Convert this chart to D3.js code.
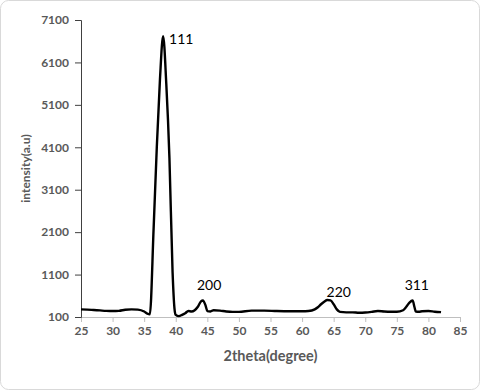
<!DOCTYPE html>
<html>
<head>
<meta charset="utf-8">
<script src="https://cdn.jsdelivr.net/npm/d3@7"></script>
<style>
  body { margin: 0; background: #fff; }
  text { font-family: Lato, "Open Sans", sans-serif; }
</style>
</head>
<body>
<div id="chart"></div>
<script>
// XRD pattern
var twoTheta = [25, 26, 27, 28, 29, 30, 31, 32, 33, 34, 35, 35.5, 35.9, 36.5, 37, 37.5, 38, 38.5, 39, 39.5, 39.8, 40, 40.5, 41, 41.5, 42, 42.5, 43, 43.5, 44, 44.3, 44.7, 45, 45.5, 46, 47, 48, 49, 50, 52, 54, 56, 58, 60, 61, 62, 62.5, 63, 63.5, 64, 64.5, 65, 65.5, 66, 67, 68, 69, 70, 71, 72, 73, 74, 75, 76, 76.5, 77, 77.5, 77.8, 78, 78.5, 79, 80, 81, 82];
var intensity = [280, 275, 265, 255, 245, 240, 245, 270, 280, 275, 230, 180, 165, 2200, 4100, 5700, 6720, 5600, 3850, 1150, 300, 150, 120, 150, 190, 240, 230, 260, 340, 470, 490, 380, 240, 230, 260, 250, 230, 220, 220, 250, 250, 240, 235, 235, 240, 280, 330, 400, 460, 500, 490, 400, 280, 220, 210, 210, 200, 205, 220, 240, 230, 225, 225, 260, 340, 440, 490, 330, 230, 225, 235, 240, 225, 215];

var peakLabels = ["111", "200", "220", "311"];
var peakTheta = [38, 44.3, 64.2, 77.5];
var peakValue = [6720, 490, 500, 490];

var xTicks = [25, 30, 35, 40, 45, 50, 55, 60, 65, 70, 75, 80, 85];
var yTicks = [100, 1100, 2100, 3100, 4100, 5100, 6100, 7100];

var width = 480, height = 390;
var margin = {left: 81, right: 20, top: 20, bottom: 73};

var svg = d3.select("#chart").append("svg")
  .attr("width", width)
  .attr("height", height);

// chart border
svg.append("rect")
  .attr("x", 0.5).attr("y", 0.5)
  .attr("width", width - 1).attr("height", height - 1)
  .attr("rx", 8)
  .attr("fill", "#fff")
  .attr("stroke", "#d9d9d9");

var x = d3.scaleLinear().domain([25, 85]).range([margin.left, width - margin.right]);
var y = d3.scaleLinear().domain([100, 7100]).range([height - margin.bottom, margin.top]);

var xAxis = svg.append("g")
  .attr("transform", "translate(0," + y(100) + ")")
  .call(d3.axisBottom(x).tickValues(xTicks).tickSize(5).tickPadding(4).tickFormat(d3.format("d")));
xAxis.select(".domain").attr("stroke", "#bfbfbf");
xAxis.selectAll(".tick line").attr("stroke", "#bfbfbf");

var yAxis = svg.append("g")
  .attr("transform", "translate(" + x(25) + ",0)")
  .call(d3.axisLeft(y).tickValues(yTicks).tickSize(6).tickPadding(6).tickFormat(d3.format("d")));
yAxis.select(".domain").attr("stroke", "#404040");
yAxis.selectAll(".tick line").attr("stroke", "#404040");

svg.selectAll(".tick text")
  .attr("fill", "#595959")
  .style("font-family", "Lato, sans-serif")
  .style("font-size", "12px")
  .style("font-weight", "bold");

var pts = twoTheta.map(function (t, i) { return [t, intensity[i]]; });

var line = d3.line()
  .x(function (d) { return x(d[0]); })
  .y(function (d) { return y(d[1]); })
  .curve(d3.curveMonotoneX);

svg.append("path")
  .datum(pts)
  .attr("d", line)
  .attr("fill", "none")
  .attr("stroke", "#000")
  .attr("stroke-width", 2.4)
  .attr("stroke-linejoin", "round");

// peak labels, nudged off the peak tops
var dx = [6, -6, -2, -8];
var dy = [8, -10, -3, -10];
svg.selectAll(".peak")
  .data(peakLabels)
  .enter().append("text")
  .attr("class", "peak")
  .attr("x", function (d, i) { return x(peakTheta[i]) + dx[i]; })
  .attr("y", function (d, i) { return y(peakValue[i]) + dy[i]; })
  .attr("fill", "#000")
  .style("font-size", "14px")
  .text(function (d) { return d; });

svg.append("text")
  .attr("x", (x(25) + x(85)) / 2)
  .attr("y", 361)
  .attr("text-anchor", "middle")
  .attr("fill", "#595959")
  .style("font-size", "14.5px")
  .style("font-weight", "bold")
  .text("2theta(degree)");

svg.append("text")
  .attr("transform", "translate(30," + ((y(100) + y(7100)) / 2) + ") rotate(-90)")
  .attr("text-anchor", "middle")
  .attr("fill", "#595959")
  .style("font-size", "12px")
  .style("font-weight", "bold")
  .text("intensity(a.u)");
</script>
</body>
</html>
